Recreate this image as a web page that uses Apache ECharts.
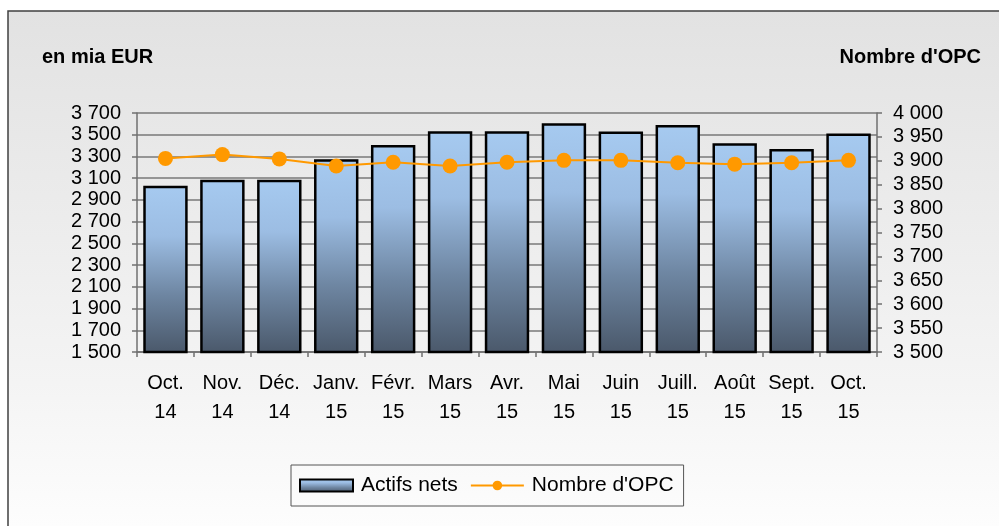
<!DOCTYPE html>
<html>
  <head>
    <meta charset="utf-8" />
    <title>Actifs nets et nombre d'OPC</title>
    <script src="https://cdn.jsdelivr.net/npm/echarts@6/dist/echarts.min.js"></script>
    <style>
      html, body { margin: 0; padding: 0; background: #fff; }
      #chart { width: 999px; height: 526px; }
    </style>
  </head>
  <body>
    <div id="chart"></div>
    <script type="text/javascript">
      // values
      var months = ['Oct.', 'Nov.', 'Déc.', 'Janv.', 'Févr.', 'Mars', 'Avr.', 'Mai', 'Juin', 'Juill.', 'Août', 'Sept.', 'Oct.'];
      var years = ['14', '14', '14', '15', '15', '15', '15', '15', '15', '15', '15', '15', '15'];
      var actifs_nets = [3030, 3085, 3085, 3275, 3405, 3533, 3533, 3605, 3530, 3590, 3422, 3368, 3512];
      var nombre_opc = [3905, 3913, 3904, 3889, 3897, 3889, 3897, 3901, 3901, 3896, 3893, 3896, 3901];

      var categories = months.map(function (m, i) { return m + '\n' + years[i]; });
      var font = 'Liberation Sans, Arial, sans-serif';
      function fmt(v) { return String(v).replace(/\B(?=(\d{3})+(?!\d))/g, ' '); }

      var bar_fill = new echarts.graphic.LinearGradient(0, 0, 0, 1, [
        { offset: 0, color: '#a6caf0' },
        { offset: 0.3, color: '#9cbde3' },
        { offset: 0.65, color: '#6e86a2' },
        { offset: 1, color: '#4a586a' }
      ]);

      var chart = echarts.init(document.getElementById('chart'), null, { renderer: 'canvas' });
      chart.setOption({
        backgroundColor: '#ffffff',
        animation: false,
        textStyle: { fontFamily: font },
        graphic: [{
          type: 'rect',
          z: -10,
          shape: { x: 8, y: 11, width: 1000, height: 530 },
          style: {
            fill: new echarts.graphic.LinearGradient(0, 0, 0, 1, [
              { offset: 0, color: '#e2e2e2' },
              { offset: 0.7, color: '#f4f4f4' },
              { offset: 1, color: '#fefefe' }
            ]),
            stroke: '#404040',
            lineWidth: 1.5
          }
        }],
        title: [
          { text: 'en mia EUR', left: 42, top: 47, padding: 0,
            textStyle: { fontFamily: font, fontSize: 20, fontWeight: 'bold', color: '#000' } },
          { text: "Nombre d'OPC", right: 18, top: 47, padding: 0,
            textStyle: { fontFamily: font, fontSize: 20, fontWeight: 'bold', color: '#000' } }
        ],
        legend: {
          left: 291, top: 465,
          padding: [10, 10, 10, 8],
          itemGap: 12,
          itemWidth: 53, itemHeight: 12,
          borderColor: '#555', borderWidth: 1,
          textStyle: { fontFamily: font, fontSize: 21, color: '#000', padding: [0, 0, 0, 3] },
          data: [
            { name: 'Actifs nets', icon: 'rect' },
            { name: "Nombre d'OPC" }
          ]
        },
        grid: { left: 137, right: 122, top: 113, bottom: 174, containLabel: false },
        xAxis: {
          type: 'category',
          data: categories,
          boundaryGap: true,
          axisLine: { lineStyle: { color: '#707070', width: 1.5 } },
          axisTick: { show: true, length: 5, lineStyle: { color: '#707070', width: 1.5 } },
          axisLabel: { margin: 17, fontSize: 20, lineHeight: 29, color: '#000', fontFamily: font, interval: 0 }
        },
        yAxis: [
          {
            type: 'value', min: 1500, max: 3700, interval: 200,
            axisLine: { show: true, lineStyle: { color: '#707070', width: 1.5 } },
            axisTick: { show: true, length: 5, lineStyle: { color: '#707070', width: 1.5 } },
            splitLine: { show: true, lineStyle: { color: '#787878', width: 1.5 } },
            axisLabel: { margin: 16, fontSize: 20, color: '#000', fontFamily: font, formatter: fmt }
          },
          {
            type: 'value', min: 3500, max: 4000, interval: 50,
            axisLine: { show: true, lineStyle: { color: '#707070', width: 1.5 } },
            axisTick: { show: true, length: 5, lineStyle: { color: '#707070', width: 1.5 } },
            splitLine: { show: false },
            axisLabel: { margin: 16, fontSize: 20, color: '#000', fontFamily: font, formatter: fmt }
          }
        ],
        series: [
          {
            name: 'Actifs nets',
            type: 'bar',
            yAxisIndex: 0,
            data: actifs_nets,
            barCategoryGap: '22%',
            itemStyle: { color: bar_fill, borderColor: '#000', borderWidth: 2.5 }
          },
          {
            name: "Nombre d'OPC",
            type: 'line',
            yAxisIndex: 1,
            data: nombre_opc,
            symbol: 'circle',
            symbolSize: 15,
            lineStyle: { color: '#ff9900', width: 2 },
            itemStyle: { color: '#ff9900' },
            z: 5
          }
        ]
      });
    </script>
  </body>
</html>
